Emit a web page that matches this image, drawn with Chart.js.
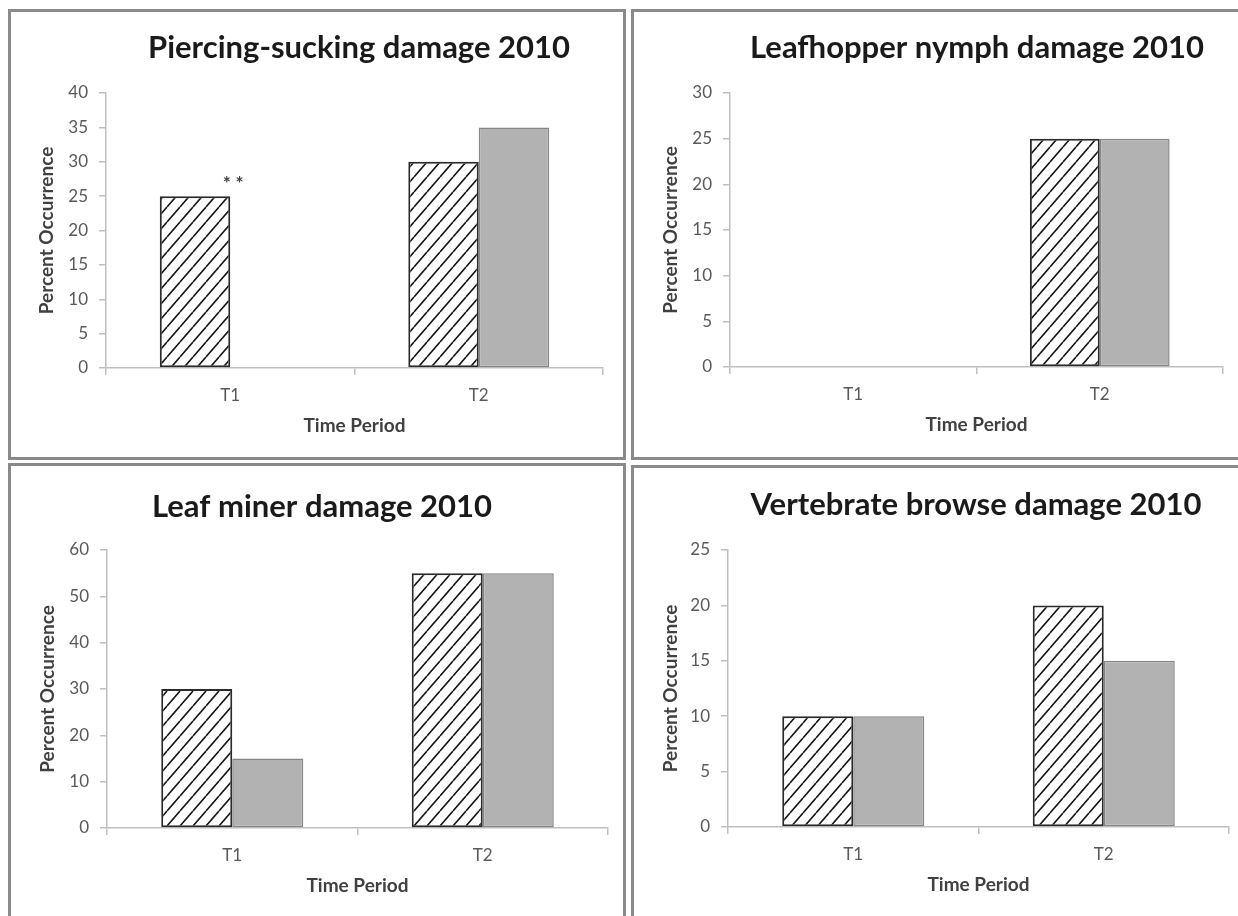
<!DOCTYPE html>
<html><head><meta charset="utf-8">
<script src="https://cdn.jsdelivr.net/npm/chart.js@4.4.1/dist/chart.umd.min.js"></script>
<style>
html,body{margin:0;padding:0;background:#fff;width:1238px;height:916px;overflow:hidden;position:relative}
.panel{position:absolute;border:3px solid #8a8a8a;box-sizing:border-box;overflow:hidden;background:#fff}
.panel canvas{display:block}
</style></head><body>
<div class="panel" style="left:8px;top:9px;width:618px;height:451px"><canvas id="c1" width="612" height="445"></canvas></div>
<div class="panel" style="left:631px;top:9px;width:620px;height:451px"><canvas id="c2" width="614" height="445"></canvas></div>
<div class="panel" style="left:8px;top:463px;width:618px;height:470px"><canvas id="c3" width="612" height="464"></canvas></div>
<div class="panel" style="left:631px;top:465px;width:620px;height:470px"><canvas id="c4" width="614" height="464"></canvas></div>
<script>
// ---- data ----
const categories = ['T1', 'T2'];
const piercingHatched = [25, 30];
const piercingGrey = [0, 35];
const leafhopperHatched = [0, 25];
const leafhopperGrey = [0, 25];
const minerHatched = [30, 55];
const minerGrey = [15, 55];
const browseHatched = [10, 20];
const browseGrey = [10, 15];
const piercingTicks = {max: 40, step: 5};
const leafhopperTicks = {max: 30, step: 5};
const minerTicks = {max: 60, step: 10};
const browseTicks = {max: 25, step: 5};
const piercingNote = {category: 'T1', value: 27.5, text: '* *'};

// ---- styles ----
const FONT = 'Lato, "Open Sans", sans-serif';
function makeHatch() {
  const w = 13, h = 15;
  const c = document.createElement('canvas'); c.width = w; c.height = h;
  const g = c.getContext('2d');
  g.fillStyle = '#ffffff'; g.fillRect(0, 0, w, h);
  g.strokeStyle = '#151515'; g.lineWidth = 1.6;
  g.beginPath();
  for (const k of [-1, 0, 1]) { g.moveTo(k * w, h); g.lineTo(w + k * w, 0); }
  g.stroke();
  return g.createPattern(c, 'repeat');
}
const hatch = makeHatch();

const titlePlugin = {
  id: 'panelTitle',
  afterDraw(chart, args, opts) {
    const ctx = chart.ctx;
    ctx.save();
    ctx.font = 'bold 31px ' + FONT;
    ctx.fillStyle = '#1a1a1a';
    ctx.textAlign = 'center';
    ctx.textBaseline = 'middle';
    ctx.fillText(opts.text, opts.x, opts.y);
    if (opts.note) {
      const xs = chart.scales.x, ys = chart.scales.y;
      ctx.font = 'bold 19px ' + FONT;
      ctx.fillStyle = '#404040';
      ctx.fillText(opts.note.text, xs.getPixelForValue(categories.indexOf(opts.note.category)) + 3, ys.getPixelForValue(opts.note.value) + 5);
    }
    ctx.restore();
  }
};

function makeChart(id, title, hatched, grey, ticks, L, note) {
  const cv = document.getElementById(id);
  const W = cv.width, H = cv.height;
  const xH = 75;
  const axisTitleFont = {family: FONT, size: 19, weight: 'bold'};
  const tickFont = {family: FONT, size: 17};
  new Chart(cv, {
    type: 'bar',
    data: {
      labels: categories,
      datasets: [
        {label: 'Series 1', data: hatched, backgroundColor: hatch, borderColor: '#2a2a2a', borderWidth: 2,
         categoryPercentage: 0.567, barPercentage: 1.0, borderSkipped: false},
        {label: 'Series 2', data: grey, backgroundColor: '#b2b2b2', borderColor: '#858585', borderWidth: 1.5,
         categoryPercentage: 0.567, barPercentage: 1.0, borderSkipped: false}
      ]
    },
    options: {
      responsive: false,
      animation: false,
      devicePixelRatio: 1,
      layout: {padding: {left: 0, top: L.top, right: W - L.right, bottom: H - L.bottom - xH}},
      plugins: {
        legend: {display: false},
        tooltip: {enabled: false},
        title: {display: false},
        panelTitle: {text: title, x: L.tx, y: L.ty, note: note}
      },
      scales: {
        x: {
          afterFit: s => { s.height = xH; },
          grid: {display: true, drawOnChartArea: false, drawTicks: true, tickLength: 7, color: '#bfbfbf', lineWidth: 1.5, offset: true},
          border: {display: true, color: '#bfbfbf', width: 1.5},
          ticks: {color: '#595959', font: tickFont, padding: 10},
          title: {display: true, text: 'Time Period', color: '#404040', font: axisTitleFont, padding: {top: 0, bottom: 6}}
        },
        y: {
          min: 0, max: ticks.max,
          afterFit: s => { s.width = L.left; },
          grid: {display: true, drawOnChartArea: false, drawTicks: true, tickLength: 7, color: '#bfbfbf', lineWidth: 1.5},
          border: {display: true, color: '#bfbfbf', width: 1.5},
          ticks: {stepSize: ticks.step, color: '#595959', font: tickFont, padding: 11},
          title: {display: true, text: 'Percent Occurrence', color: '#404040', font: axisTitleFont, padding: {top: L.yt - 11.4, bottom: 0}}
        }
      }
    },
    plugins: [titlePlugin]
  });
}

makeChart('c1', 'Piercing-sucking damage 2010', piercingHatched, piercingGrey, piercingTicks,
  {left: 95, right: 592, top: 81, bottom: 356, tx: 348, ty: 36, yt: 36}, piercingNote);
makeChart('c2', 'Leafhopper nymph damage 2010', leafhopperHatched, leafhopperGrey, leafhopperTicks,
  {left: 96, right: 589, top: 81, bottom: 355, tx: 343, ty: 36, yt: 37});
makeChart('c3', 'Leaf miner damage 2010', minerHatched, minerGrey, minerTicks,
  {left: 96, right: 597, top: 84, bottom: 362, tx: 311, ty: 41, yt: 37});
makeChart('c4', 'Vertebrate browse damage 2010', browseHatched, browseGrey, browseTicks,
  {left: 94, right: 595, top: 82, bottom: 359, tx: 342, ty: 37, yt: 37});
</script>
</body></html>
